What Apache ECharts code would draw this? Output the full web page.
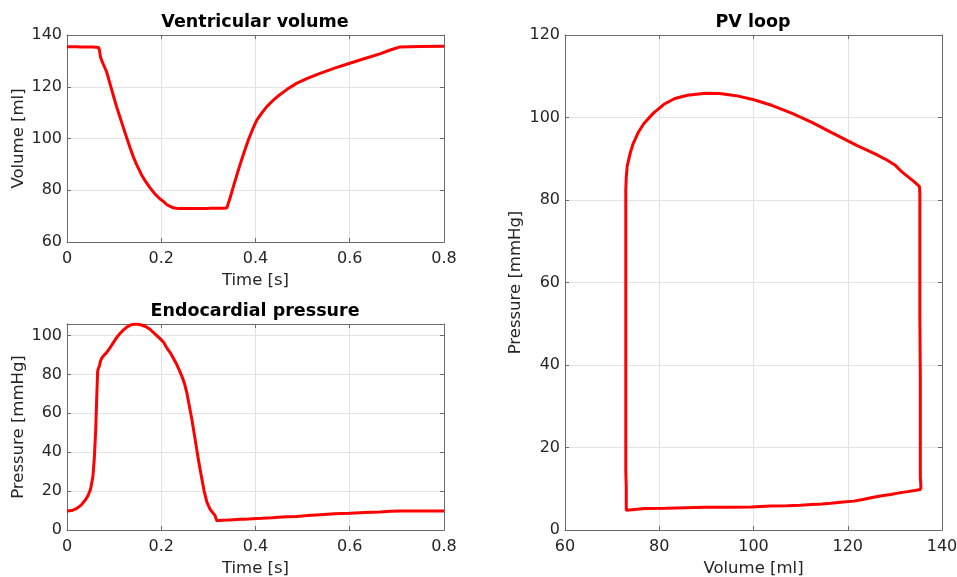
<!DOCTYPE html>
<html>
<head>
<meta charset="utf-8">
<script src="https://cdn.jsdelivr.net/npm/echarts@6/dist/echarts.min.js"></script>
<style>
html,body{margin:0;padding:0;background:#fff;}
#chart{width:957px;height:577px;}
</style>
</head>
<body>
<div id="chart"></div>
<script>
// Time samples [s]
const time = [0, 0.01, 0.02, 0.03, 0.04, 0.045, 0.05, 0.055, 0.058, 0.061, 0.063, 0.065, 0.067, 0.069, 0.071, 0.074, 0.078, 0.084, 0.09, 0.098, 0.105, 0.1125, 0.12, 0.127, 0.134, 0.141, 0.148, 0.158, 0.167, 0.176, 0.186, 0.197, 0.205, 0.212, 0.219, 0.226, 0.232, 0.238, 0.243, 0.249, 0.254, 0.259, 0.265, 0.27, 0.275, 0.28, 0.286, 0.291, 0.297, 0.304, 0.31, 0.314, 0.318, 0.33, 0.339, 0.346, 0.353, 0.36, 0.367, 0.376, 0.385, 0.394, 0.403, 0.414, 0.424, 0.436, 0.448, 0.467, 0.487, 0.51, 0.537, 0.568, 0.6, 0.632, 0.664, 0.686, 0.707, 0.75, 0.8];
// Ventricular volume [ml]
const volume = [135.5, 135.5, 135.5, 135.4, 135.4, 135.4, 135.4, 135.4, 135.4, 135.3, 135.3, 135.3, 135.2, 134.0, 131.5, 130.0, 128.3, 125.8, 122.0, 116.8, 112.4, 108.2, 104.0, 100.1, 96.3, 92.8, 89.8, 86.0, 83.3, 81.0, 78.7, 76.7, 75.6, 74.4, 73.8, 73.2, 73.0, 72.9, 72.9, 72.9, 72.9, 72.9, 72.9, 72.9, 72.9, 72.9, 72.9, 72.9, 72.9, 73.0, 73.0, 73.0, 73.0, 73.0, 73.1, 77.0, 81.4, 85.6, 89.8, 94.8, 99.5, 103.6, 107.2, 110.0, 112.3, 114.5, 116.4, 119.0, 121.3, 123.2, 125.2, 127.2, 129.1, 130.9, 132.7, 134.2, 135.4, 135.6, 135.7];
// Endocardial pressure [mmHg]
const pressure = [9.8, 10.0, 11.0, 12.8, 15.8, 17.9, 21.0, 27.5, 37, 52, 67.5, 81.5, 83.3, 84.5, 86.8, 88.5, 89.7, 91.2, 93.2, 96.2, 98.8, 101.0, 102.9, 104.3, 105.3, 105.8, 105.9, 105.4, 104.6, 103.2, 101.0, 98.5, 96.5, 93.5, 91.2, 88.2, 85.5, 82.3, 79.5, 75.5, 70.9, 64.5, 56.8, 49.5, 41.9, 34.5, 26.5, 20, 14.2, 10.5, 8.7, 7.5, 4.8, 5.0, 5.1, 5.2, 5.3, 5.4, 5.5, 5.5, 5.6, 5.8, 5.9, 6.0, 6.2, 6.3, 6.5, 6.8, 7.0, 7.4, 7.9, 8.3, 8.6, 9.0, 9.3, 9.6, 9.8, 9.8, 9.8];

const titles = ['Ventricular volume', 'Endocardial pressure', 'PV loop'];
const timeTicks = [0, 0.2, 0.4, 0.6, 0.8];
const volumeTicks = [60, 80, 100, 120, 140];
const pressureTicks = [0, 20, 40, 60, 80, 100];
const pvVolumeTicks = [60, 80, 100, 120, 140];
const pvPressureTicks = [0, 20, 40, 60, 80, 100, 120];

const volSeries = time.map((t, i) => [t, volume[i]]);
const presSeries = time.map((t, i) => [t, pressure[i]]);
const pvSeries = volume.map((v, i) => [v, pressure[i]]);

const FONT = 'DejaVu Sans';
const TXT = '#262626';
const AXC = '#6b6b6b';
const GRIDC = '#e3e3e3';

const grids = [
  {left: 67, top: 35, width: 377, height: 207, outerBoundsMode: 'none', containLabel: false},
  {left: 67, top: 324, width: 377, height: 206, outerBoundsMode: 'none', containLabel: false},
  {left: 565, top: 35, width: 377, height: 495, outerBoundsMode: 'none', containLabel: false}
];

function mainX(gi, ticks, name, fmt) {
  return {
    type: 'value', gridIndex: gi, position: 'bottom',
    min: ticks[0], max: ticks[ticks.length - 1], interval: ticks[1] - ticks[0],
    name: name, nameLocation: 'middle', nameGap: 30,
    nameTextStyle: {fontFamily: FONT, fontSize: 16.5, color: TXT},
    axisLine: {show: true, onZero: false, lineStyle: {color: AXC, width: 1}},
    axisTick: {show: true, inside: true, length: 4, lineStyle: {color: AXC}},
    axisLabel: {fontFamily: FONT, fontSize: 16, color: TXT, margin: 9, formatter: fmt},
    splitLine: {show: true, lineStyle: {color: GRIDC, width: 1}}
  };
}
function mirrorX(gi, ticks) {
  return {
    type: 'value', gridIndex: gi, position: 'top',
    min: ticks[0], max: ticks[ticks.length - 1], interval: ticks[1] - ticks[0],
    axisLine: {show: true, onZero: false, lineStyle: {color: AXC, width: 1}},
    axisTick: {show: true, inside: true, length: 4, lineStyle: {color: AXC}},
    axisLabel: {show: false}, splitLine: {show: false}
  };
}
function mainY(gi, ticks, max, name, gap) {
  return {
    type: 'value', gridIndex: gi, position: 'left',
    min: ticks[0], max: max, interval: ticks[1] - ticks[0],
    name: name, nameLocation: 'middle', nameGap: gap,
    nameTextStyle: {fontFamily: FONT, fontSize: 16.5, color: TXT},
    axisLine: {show: true, onZero: false, lineStyle: {color: AXC, width: 1}},
    axisTick: {show: true, inside: true, length: 4, lineStyle: {color: AXC}},
    axisLabel: {fontFamily: FONT, fontSize: 16, color: TXT, margin: 5, showMaxLabel: max === ticks[ticks.length - 1]},
    splitLine: {show: true, lineStyle: {color: GRIDC, width: 1}}
  };
}
function mirrorY(gi, ticks, max) {
  return {
    type: 'value', gridIndex: gi, position: 'right',
    min: ticks[0], max: max, interval: ticks[1] - ticks[0],
    axisLine: {show: true, onZero: false, lineStyle: {color: AXC, width: 1}},
    axisTick: {show: true, inside: true, length: 4, lineStyle: {color: AXC}},
    axisLabel: {show: false}, splitLine: {show: false}
  };
}

const pMax = 105.9;
const fmt1 = v => (v === 0 ? '0' : String(+v.toFixed(1)));
const titleStyle = {fontFamily: FONT, fontSize: 17.5, fontWeight: 'bold', color: '#000'};

const option = {
  animation: false,
  backgroundColor: '#ffffff',
  title: [
    {text: titles[0], left: 255, top: 13, padding: 0, textAlign: 'center', textStyle: titleStyle},
    {text: titles[1], left: 255, top: 302, padding: 0, textAlign: 'center', textStyle: titleStyle},
    {text: titles[2], left: 753, top: 13, padding: 0, textAlign: 'center', textStyle: titleStyle}
  ],
  grid: grids,
  xAxis: [
    mainX(0, timeTicks, 'Time [s]', fmt1), mirrorX(0, timeTicks),
    mainX(1, timeTicks, 'Time [s]', fmt1), mirrorX(1, timeTicks),
    mainX(2, pvVolumeTicks, 'Volume [ml]'), mirrorX(2, pvVolumeTicks)
  ],
  yAxis: [
    mainY(0, volumeTicks, 140, 'Volume [ml]', 38), mirrorY(0, volumeTicks, 140),
    mainY(1, pressureTicks, pMax, 'Pressure [mmHg]', 38), mirrorY(1, pressureTicks, pMax),
    mainY(2, pvPressureTicks, 120, 'Pressure [mmHg]', 41), mirrorY(2, pvPressureTicks, 120)
  ],
  series: [
    {type: 'line', xAxisIndex: 0, yAxisIndex: 0, data: volSeries, showSymbol: false, lineStyle: {color: '#ff0000', width: 3}, z: 5},
    {type: 'line', xAxisIndex: 2, yAxisIndex: 2, data: presSeries, showSymbol: false, lineStyle: {color: '#ff0000', width: 3}, z: 5},
    {type: 'line', xAxisIndex: 4, yAxisIndex: 4, data: pvSeries, showSymbol: false, lineStyle: {color: '#ff0000', width: 3}, z: 5}
  ]
};

const chart = echarts.init(document.getElementById('chart'), null, {renderer: 'canvas'});
chart.setOption(option);
</script>
</body>
</html>
